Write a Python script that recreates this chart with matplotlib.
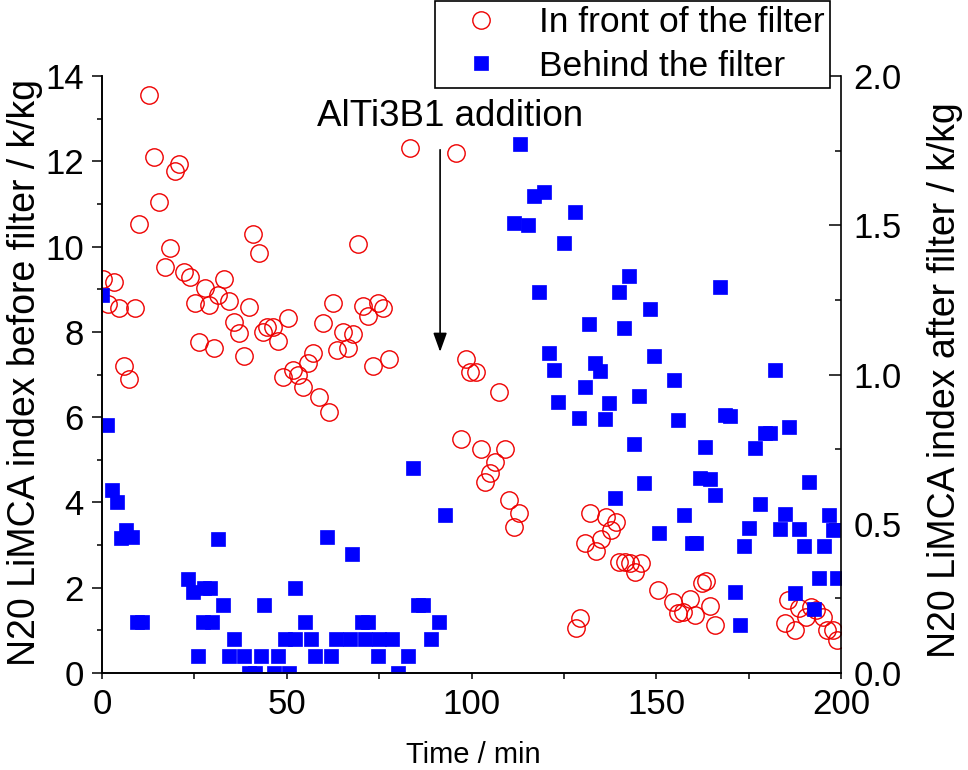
import numpy as np
import matplotlib
matplotlib.use("Agg")
from matplotlib import pyplot as plt
from matplotlib.ticker import MultipleLocator, FormatStrFormatter

plt.rcParams['font.family'] = ['Liberation Sans', 'DejaVu Sans']

# N20 in front of the filter (left axis), time in min
front_time = [0.2, 1.7, 3.3, 4.7, 5.9, 7.4, 8.8, 10.1, 12.8, 14.2, 15.5, 17.1, 18.4, 19.8,
              20.9, 22.3, 23.8, 25.2, 26.3, 27.9, 29.0, 30.3, 31.3, 33.0, 34.4, 35.8, 37.1,
              38.5, 39.8, 40.9, 42.4, 43.6, 44.6, 46.3, 47.7, 49.0, 50.4, 51.6, 53.1, 54.4,
              55.8, 57.2, 58.7, 59.8, 61.4, 62.5, 63.5, 65.3, 66.7, 68.0, 69.4, 70.7, 72.1,
              73.4, 74.8, 76.1, 77.7, 83.4, 95.7, 97.2, 98.4, 99.6, 101.2, 102.6, 103.7,
              105.0, 106.4, 107.5, 109.1, 110.2, 111.6, 112.9, 128.2, 129.4, 130.7, 132.0,
              133.6, 135.0, 136.4, 137.7, 139.1, 140.0, 141.5, 142.9, 144.3, 145.9, 150.6,
              154.6, 156.0, 157.2, 159.1, 160.5, 162.3, 163.5, 164.5, 165.9, 184.8, 185.7,
              187.5, 188.7, 190.5, 191.8, 193.2, 195.0, 196.3, 197.7, 199.0]
front_n20 = [9.25, 8.65, 9.18, 8.55, 7.2, 6.9, 8.55, 10.52, 13.55, 12.09, 11.04, 9.51, 9.96, 11.77,
             11.94, 9.41, 9.29, 8.68, 7.77, 9.04, 8.63, 7.63, 8.86, 9.23, 8.73, 8.24, 7.98,
             7.43, 8.59, 10.30, 9.86, 8.0, 8.12, 8.12, 7.79, 6.93, 8.32, 7.1, 6.99, 6.7,
             7.28, 7.51, 6.48, 8.2, 6.13, 8.68, 7.57, 7.99, 7.63, 7.94, 10.05, 8.61, 8.38,
             7.19, 8.68, 8.55, 7.36, 12.31, 12.2, 5.49, 7.37, 7.06, 7.06, 5.26, 4.48,
             4.69, 4.95, 6.6, 5.26, 4.05, 3.42, 3.75, 1.05, 1.28, 3.04, 3.76,
             2.85, 3.14, 3.65, 3.35, 3.55, 2.61, 2.61, 2.57, 2.38, 2.57, 1.95,
             1.67, 1.40, 1.44, 1.73, 1.36, 2.12, 2.16, 1.57, 1.13, 1.18, 1.71,
             1.02, 1.52, 1.31, 1.55, 1.48, 1.32, 1.01, 1.01, 0.77]

# N20 behind the filter (right axis)
behind_time = [0.0, 1.4, 2.6, 4.0, 5.1, 6.5, 8.0, 9.5, 10.8, 23.2, 24.7, 26.0, 27.3, 27.5,
               29.2, 29.9, 31.5, 32.8, 34.5, 35.8, 38.5, 39.8, 41.3, 43.0, 43.8, 46.5, 47.5,
               49.4, 50.5, 52.1, 52.2, 54.9, 56.6, 57.7, 60.9, 61.9, 63.2, 67.1, 67.7, 70.5,
               71.2, 72.0, 74.8, 75.0, 78.6, 80.0, 82.9, 84.1, 85.5, 87.0, 89.1, 91.3, 92.7,
               111.6, 113.2, 115.2, 117.0, 118.4, 119.7, 121.1, 122.4, 123.3, 125.1, 128.0,
               129.2, 130.7, 131.9, 133.3, 134.8, 136.2, 137.3, 138.9, 140.0, 141.4, 142.7,
               144.1, 145.4, 146.8, 148.2, 149.5, 150.8, 154.9, 155.8, 157.6, 159.6, 160.8,
               161.8, 163.2, 164.5, 165.9, 167.3, 168.6, 170.0, 171.3, 172.7, 173.8, 175.2,
               176.7, 178.1, 179.4, 180.8, 182.1, 183.5, 184.8, 186.0, 187.5, 188.7, 190.1,
               191.4, 192.7, 194.1, 195.5, 196.8, 197.9, 198.8]
behind_n20 = [1.266, 0.831, 0.613, 0.574, 0.451, 0.479, 0.455, 0.171, 0.171, 0.314, 0.272, 0.057, 0.171, 0.286,
              0.286, 0.171, 0.448, 0.229, 0.057, 0.114, 0.057, 0.0, 0.0, 0.057, 0.229, 0.0, 0.057,
              0.114, 0.0, 0.114, 0.286, 0.171, 0.114, 0.057, 0.457, 0.057, 0.114, 0.114, 0.4, 0.171,
              0.114, 0.171, 0.057, 0.114, 0.114, 0.0, 0.057, 0.686, 0.229, 0.229, 0.114, 0.171, 0.529,
              1.506, 1.771, 1.50, 1.599, 1.278, 1.613, 1.071, 1.015, 0.908, 1.44, 1.543,
              0.853, 0.959, 1.169, 1.04, 1.013, 0.851, 0.903, 0.585, 1.277, 1.155, 1.33,
              0.767, 0.928, 0.638, 1.218, 1.063, 0.468, 0.982, 0.848, 0.529, 0.434, 0.434,
              0.652, 0.758, 0.65, 0.596, 1.294, 0.864, 0.861, 0.272, 0.161, 0.427, 0.485,
              0.753, 0.566, 0.803, 0.803, 1.015, 0.481, 0.533, 0.825, 0.267, 0.481, 0.427,
              0.639, 0.214, 0.317, 0.427, 0.529, 0.479, 0.317]

fig = plt.figure(figsize=(9.68, 7.7), dpi=100)
ax = fig.add_axes([102/968, 97/770, 739/968, 597/770])
ax2 = ax.twinx()

l1, = ax.plot(front_time, front_n20, 'o', ms=12.5, mfc='none', mec='#ee0000', mew=1.0,
              label='In front of the filter')
l2, = ax2.plot(behind_time, behind_n20, 's', ms=10.5, color='#0000ff', mec='#0000ff', mew=0.5,
               label='Behind the filter')

ax.set_xlim(0, 200)
ax.set_ylim(0, 14)
ax2.set_ylim(0, 2.0)

ax.xaxis.set_major_locator(MultipleLocator(50))
ax.xaxis.set_minor_locator(MultipleLocator(25))
ax.yaxis.set_major_locator(MultipleLocator(2))
ax.yaxis.set_minor_locator(MultipleLocator(1))
ax2.yaxis.set_major_locator(MultipleLocator(0.5))
ax2.yaxis.set_minor_locator(MultipleLocator(0.25))
ax2.yaxis.set_major_formatter(FormatStrFormatter('%.1f'))

for a in (ax, ax2):
    a.spines['top'].set_visible(False)
    for s in a.spines.values():
        s.set_linewidth(1.2)
ax.spines['right'].set_visible(False)

ax.tick_params(axis='x', which='major', direction='out', length=4, width=1.1, labelsize=25, pad=7)
ax.tick_params(axis='x', which='minor', direction='out', length=4, width=1.1)
ax.tick_params(axis='y', which='major', direction='out', length=7, width=1.1, labelsize=25, pad=6)
ax.tick_params(axis='y', which='minor', direction='out', length=3.6, width=1.1)
ax2.tick_params(axis='y', which='major', direction='in', length=8.6, width=1.1, labelsize=25, pad=9)
ax2.tick_params(axis='y', which='minor', direction='in', length=4.3, width=1.1)

ax.set_xlabel('Time / min', fontsize=21)
ax.xaxis.set_label_coords(0.503, -0.114)
ax.set_ylabel('N20 LiMCA index before filter / k/kg', fontsize=27)
ax.yaxis.set_label_coords(-0.08, 0.504)
ax2.set_ylabel('N20 LiMCA index after filter / k/kg', fontsize=27, rotation=90)
ax2.yaxis.set_label_coords(1.116, 0.491)

# filter addition marker
ax.annotate('', xy=(91.5, 7.53), xytext=(91.5, 12.27),
            arrowprops=dict(arrowstyle='-|>,head_length=0.5,head_width=0.18',
                            mutation_scale=23, lw=1.2, color='k', shrinkA=0, shrinkB=0))
ax.text(94.2, 13.04, 'AlTi3B1 addition', fontsize=26.5, ha='center', va='center')

leg = fig.legend([l1, l2], ['In front of the filter', 'Behind the filter'],
                 loc='upper right', bbox_to_anchor=(830/968, 0.999), fontsize=25.5,
                 frameon=True, fancybox=False, edgecolor='black', framealpha=1,
                 borderpad=0.15, labelspacing=0.3, handlelength=2.3, handletextpad=0.5,
                 borderaxespad=0)
leg.get_frame().set_linewidth(1.2)

fig.savefig('out.png', dpi=100)
